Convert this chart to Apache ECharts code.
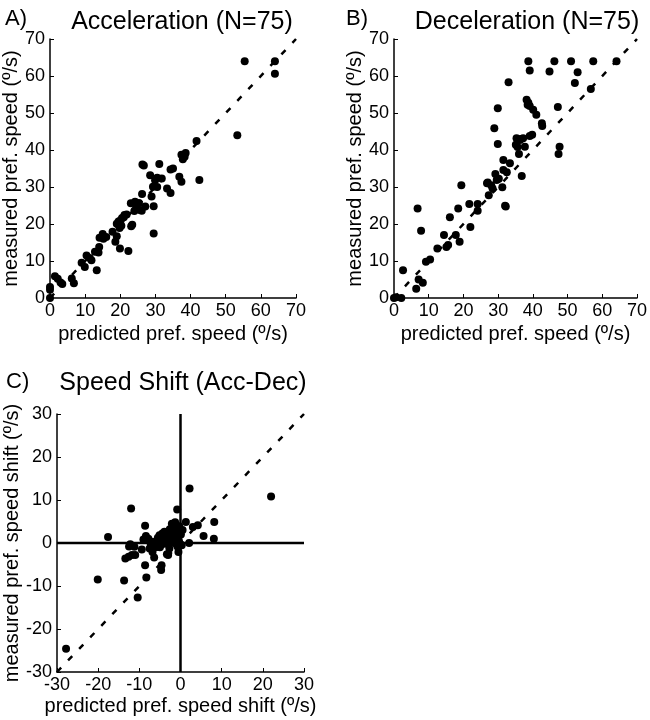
<!DOCTYPE html>
<html>
<head>
<meta charset="utf-8">
<script src="https://cdn.jsdelivr.net/npm/echarts@6/dist/echarts.min.js"></script>
<style>html,body{margin:0;padding:0;background:#fff}#c{width:650px;height:720px}</style>
</head>
<body>
<div id="c"></div>
<script>
// ---- Data ----
const accTitle = "Acceleration (N=75)";
const decTitle = "Deceleration (N=75)";
const shiftTitle = "Speed Shift (Acc-Dec)";
const speedTicks = [0, 10, 20, 30, 40, 50, 60, 70];
const shiftTicks = [-30, -20, -10, 0, 10, 20, 30];

// Panel A: [predicted, measured]
const accPoints = [
  [0,0],[0,2.2],[0,3],[1.4,5.9],[2.2,5.2],[3,4.2],[3.5,3.8],[6.2,5.3],[6.8,4],
  [9,9.5],[9.9,8.4],[10.4,11.5],[11.3,10.8],[11.8,10.2],[13.3,7.5],[13.8,12.3],[14,13.8],
  [14.1,16.3],[15,17.3],[15.2,16],[17.8,17.9],[18.6,15.2],[19,16.7],[19,20.1],[19.5,20.7],
  [19.8,18.9],[19.9,13.4],[20.3,19.5],[20.5,21.6],[21.2,22.4],[21.8,22.6],[22.3,12.7],
  [23.1,19.4],[23.4,19.8],[23,25.6],[24.2,26],[24.5,24.2],[25.3,25.7],[25.6,23.8],[26.1,23.6],
  [26.2,28.1],[26.3,36.1],[26.7,35.8],[27.1,24.7],[28.5,33.2],[28.9,27.4],[29.3,30.1],
  [29.5,24.8],[29.5,17.4],[29.9,31.8],[30.5,30],[31.1,36.2],[31.8,32.3],[33.3,29.6],
  [34.3,28.4],[34.3,34.7],[35,35],[36.8,32.8],[37.4,31.4],[37.4,38.7],[37.8,37.5],[38.3,38.2],
  [38.6,39.2],[41.7,42.4],[42.5,31.9],[53.3,44],[55.4,64],[64,64],[64,60.6],[30.5,32.5],
  [24,23.5],[21,21.8],[20.1,21],[16,16.5],[12.8,12.5]
];

// Panel B: [predicted, measured]
const decPoints = [
  [0,0],[0.6,0.2],[2.1,0],[2.6,7.5],[6.4,2.5],[6.8,24.2],[7.1,5],[7.8,18.2],[8.3,4.1],
  [9.2,9.8],[10.4,10.4],[12.5,13.4],[14.4,17],[15.1,13.8],[15.6,14.3],[16.1,21.8],[17.8,17],
  [18.5,24.2],[18.9,15.2],[19.4,30.5],[21.7,25.4],[22,19.2],[24.1,25.4],[24.1,23.6],
  [26.8,31],[27.3,27.8],[28,30.5],[28.4,29.6],[28.9,45.9],[29.2,33.5],[29.6,31.9],[29.9,51.3],
  [29.9,41.6],[31.2,29.9],[31.5,37.3],[31.5,34.6],[32.2,24.7],[32.5,34],[33,58.3],[33.4,36.4],
  [35.1,41.4],[35.3,43.2],[36,38.9],[36.3,42.7],[36.8,33],[37.2,43.2],[37.7,40.9],[38.2,53.6],
  [38.7,64],[38.7,52.8],[39.1,61.5],[39.1,51.9],[39.1,43.8],[39.8,44.1],[40.1,50.9],[41,49.5],
  [42.6,47.2],[42.7,46.5],[44.8,61.2],[46.2,64],[47.2,51.6],[47.4,38.9],[47.7,40.9],[51,64],
  [52.1,58.1],[52.9,61],[56.7,56.5],[57.4,64],[64.1,64],[36.4,43],[35.6,40.8],[32,24.9],
  [30.2,32.2],[27,31.2],[38.5,52.2]
];

// Panel C: [predicted shift, measured shift]
const shiftPoints = [
  [-27.8,-24.6],[-20.1,-8.5],[-17.6,1.4],[-13.7,-8.7],[-12,8],[-13.4,-3.6],[-12.6,-3.2],
  [-11.8,-2.8],[-11,-2.8],[-12.2,-0.3],[-11.2,-0.9],[-10.4,-12.7],[-9.4,-1.5],[-8.6,4],
  [-8.6,-5.2],[-8.3,-8],[-8.4,1.6],[-7.8,1],[-7.2,-0.3],[-6.8,-2.1],[-6.4,-3.4],[-7,0.3],
  [-5.7,0.6],[-5.1,1.8],[-4.9,-0.5],[-4.6,-5.2],[-4.7,-6.3],[-3.9,2.6],[-3.5,1],[-3.3,-2.6],
  [-2.7,-1.3],[-2.3,0.2],[-2.1,4.5],[-1.9,2.2],[-1.5,3.3],[-1.1,0.6],[-0.8,7.8],[-0.7,-0.9],
  [-0.5,-2.1],[-0.3,3.9],[0.1,2],[0.5,3],[1.3,4.9],[2.1,0],[2.2,12.7],[3,3.7],[4.2,4.1],
  [5.6,1.6],[8.2,4.9],[8.1,1],[22,10.8],
  [-6,-1],[-5.5,1.2],[-4.2,0.5],[-3,1.5],[-2.5,2.6],[-1.6,1.4],[-1.2,2.5],[-0.8,1],[-0.4,0.5],
  [-6.2,0.2],[-5,-1],[-3.8,-0.2],[-2,0.8],[-1,-0.3],[-9,0.8],[-4.4,2.2],[0.3,-0.5],[-1.3,4.8],
  [-2.6,3.2],[-7.5,-1.3],[-3,-2.8],[-12.5,-0.8]
];

// reference lines
const unitLineSpeed = [[0,0],[70,70]];
const unitLineShift = [[-30,-30],[30,30]];
const zeroVertical = [[0,-30],[0,30]];
const zeroHorizontal = [[-30,0],[30,0]];

// ---- Chart ----
const FONT = 'Liberation Sans, Arial, sans-serif';
const chart = echarts.init(document.getElementById('c'), null, {renderer: 'canvas'});

function axis(gridIndex, min, max, name, gap, isY) {
  return {
    type: 'value', gridIndex, min, max, interval: 10,
    name, nameLocation: 'middle', nameGap: gap,
    nameTextStyle: {color: '#000', fontSize: 20, fontFamily: FONT},
    axisLine: {show: true, onZero: false, lineStyle: {color: '#000', width: 1.5}},
    axisTick: {show: true, inside: true, length: 4, lineStyle: {color: '#000', width: 1}},
    axisLabel: {color: '#000', fontSize: 18, fontFamily: FONT, margin: isY ? 5 : 4},
    splitLine: {show: false}
  };
}

function dots(idx, data) {
  return {type: 'scatter', xAxisIndex: idx, yAxisIndex: idx, data,
    symbol: 'circle', symbolSize: 8, itemStyle: {color: '#000', opacity: 1}, z: 5, silent: true};
}
function line(idx, data, dashed, width) {
  return {type: 'line', xAxisIndex: idx, yAxisIndex: idx, data, symbol: 'none',
    lineStyle: {color: '#000', width, type: dashed ? [6, 10] : 'solid'}, z: 3, silent: true, animation: false};
}

const option = {
  animation: false,
  backgroundColor: '#fff',
  title: [
    {text: accTitle, left: 177, top: 5, textAlign: 'center',
     textStyle: {fontSize: 25, fontWeight: 'normal', color: '#000', fontFamily: FONT}},
    {text: decTitle, left: 522, top: 5, textAlign: 'center',
     textStyle: {fontSize: 25, fontWeight: 'normal', color: '#000', fontFamily: FONT}},
    {text: shiftTitle, left: 178, top: 366, textAlign: 'center',
     textStyle: {fontSize: 25, fontWeight: 'normal', color: '#000', fontFamily: FONT}},
    {text: 'A)', left: 0, top: 3, textStyle: {fontSize: 22, fontWeight: 'normal', color: '#000', fontFamily: FONT}},
    {text: 'B)', left: 341, top: 3, textStyle: {fontSize: 22, fontWeight: 'normal', color: '#000', fontFamily: FONT}},
    {text: 'C)', left: 1, top: 366, textStyle: {fontSize: 22, fontWeight: 'normal', color: '#000', fontFamily: FONT}}
  ],
  grid: [
    {left: 50, top: 39, width: 246, height: 259},
    {left: 394, top: 39, width: 246, height: 259},
    {left: 57, top: 414, width: 247, height: 258}
  ],
  xAxis: [
    axis(0, 0, 70, 'predicted pref. speed (º/s)', 26, false),
    axis(1, 0, 70, 'predicted pref. speed (º/s)', 26, false),
    axis(2, -30, 30, 'predicted pref. speed shift (º/s)', 24, false)
  ],
  yAxis: [
    axis(0, 0, 70, 'measured pref. speed (º/s)', 28, true),
    axis(1, 0, 70, 'measured pref. speed (º/s)', 28, true),
    axis(2, -30, 30, 'measured pref. speed shift (º/s)', 35, true)
  ],
  series: [
    line(0, unitLineSpeed, true, 2.5),
    dots(0, accPoints),
    line(1, unitLineSpeed, true, 2.5),
    dots(1, decPoints),
    line(2, unitLineShift, true, 2.5),
    line(2, zeroVertical, false, 2.5),
    line(2, zeroHorizontal, false, 2.5),
    dots(2, shiftPoints)
  ]
};
chart.setOption(option);
</script>
</body>
</html>
